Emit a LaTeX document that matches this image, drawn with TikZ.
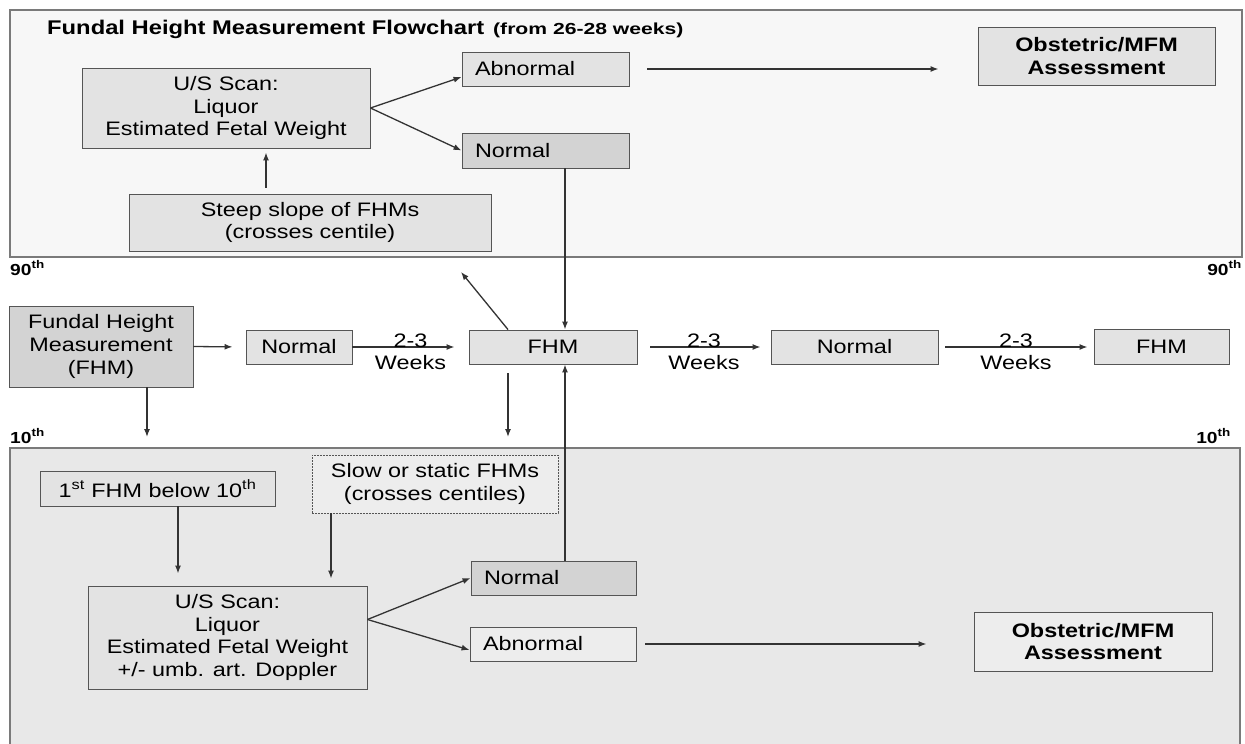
\documentclass[tikz,border=0pt]{standalone}
\usepackage{fontspec}
\setmainfont{Liberation Sans}[FakeStretch=1.2]
\usetikzlibrary{arrows.meta,calc}
\definecolor{topbg}{HTML}{F7F7F7}
\definecolor{botbg}{HTML}{E8E8E8}
\definecolor{frameclr}{HTML}{7A7A7A}
\definecolor{boxline}{HTML}{555555}
\definecolor{boxfill}{HTML}{E3E3E3}
\definecolor{darkfill}{HTML}{D3D3D3}
\definecolor{lightfill}{HTML}{EDEDED}
\definecolor{lineclr}{HTML}{333333}
\begin{document}
\begin{tikzpicture}[x=1pt,y=-1pt,
  font=\fontsize{19.5}{22.8}\selectfont,
  box/.style={draw=boxline, line width=0.9pt, fill=boxfill, inner sep=0pt, align=center},
  leftbox/.style={box, minimum height=34pt, inner xsep=13pt, align=left},
  arr/.style={draw=lineclr, line width=1.3pt, -{Latex[length=8pt,width=6pt]}},
  pct/.style={font=\fontsize{16}{18}\selectfont\bfseries, inner sep=0pt}]
\useasboundingbox (0,0) rectangle (1245,744);
\clip (0,0) rectangle (1245,744);
\fill[white] (0,0) rectangle (1245,744);
% background bands
\fill[topbg] (10,10) rectangle (1242,257);
\draw[frameclr, line width=1.2pt] (10,10) rectangle (1242,257);
\fill[botbg] (10,448) rectangle (1240,760);
\draw[frameclr, line width=1.2pt] (10,760) -- (10,448) -- (1240,448) -- (1240,760);

% title
\node[anchor=west, inner sep=0pt, font=\fontsize{19.8}{22}\selectfont\bfseries] (title) at (47,29) {Fundal Height Measurement Flowchart};
\node[anchor=west, inner sep=0pt, font=\fontsize{16}{18}\selectfont\bfseries] (sub) at (493,30) {\scalebox{1.1}[1]{(from 26-28 weeks)}};

% percentile labels
\node[pct, anchor=west] (p90l) at (10,268) {90\textsuperscript{th}};
\node[pct, anchor=east] (p90r) at (1242,268) {90\textsuperscript{th}};
\node[pct, anchor=west] (p10l) at (10,436) {10\textsuperscript{th}};
\node[pct, anchor=east] (p10r) at (1231,436) {10\textsuperscript{th}};

% top band nodes
\node[box, minimum width=288pt, minimum height=80pt] (usTop) at (226,108) {U/S Scan:\\Liquor\\Estimated Fetal Weight};
\node[leftbox, text width=141pt, fill=boxfill] (abnTop) at (545.5,69) {Abnormal};
\node[leftbox, text width=141pt, fill=darkfill, minimum height=35pt] (normTop) at (545.5,150.5) {Normal};
\node[box, minimum width=237pt, minimum height=58pt, font=\fontsize{19.5}{22.8}\selectfont\bfseries] (obsTop) at (1096.5,56) {Obstetric/MFM\\Assessment};
\node[box, minimum width=362pt, minimum height=57pt] (steep) at (310,222.5) {Steep slope of FHMs\\(crosses centile)};

% middle row
\node[box, fill=darkfill, minimum width=184pt, minimum height=81pt] (fhm0) at (101,346.5) {Fundal Height\\Measurement\\(FHM)};
\node[box, fill=boxfill, minimum width=106pt, minimum height=34pt] (norm1) at (299,347) {Normal};
\node[box, fill=boxfill, minimum width=168pt, minimum height=34pt] (fhm1) at (553,347) {FHM};
\node[box, fill=boxfill, minimum width=167pt, minimum height=34pt] (norm2) at (854.5,347) {Normal};
\node[box, fill=boxfill, minimum width=135pt, minimum height=35pt] (fhm2) at (1161.5,347) {FHM};

% bottom band nodes
\node[box, minimum width=235pt, minimum height=35pt] (first) at (157.5,488.5) {1\textsuperscript{st} FHM below 10\textsuperscript{th}};
\node[box, fill=lightfill, dash pattern=on 2pt off 1pt, minimum width=246pt, minimum height=58pt] (slow) at (435,484) {Slow or static FHMs\\(crosses centiles)};
\node[box, minimum width=279pt, minimum height=103pt] (usBot) at (227.5,637.5) {U/S Scan:\\Liquor\\Estimated Fetal Weight\\+/- umb. art. Doppler};
\node[leftbox, text width=139pt, inner xsep=13pt, fill=darkfill] (normBot) at (553.5,578) {Normal};
\node[leftbox, text width=140pt, inner xsep=13pt, fill=lightfill] (abnBot) at (553,644) {Abnormal};
\node[box, fill=lightfill, minimum width=238pt, minimum height=59pt, font=\fontsize{19.5}{22.8}\selectfont\bfseries] (obsBot) at (1093,641.5) {Obstetric/MFM\\Assessment};

% helper x positions
\coordinate (c1) at (266,0);
\coordinate (c2) at (565,0);
\coordinate (c3) at (508,0);
\coordinate (c4) at (147,0);
\coordinate (c5) at (178,0);
\coordinate (c6) at (331,0);
\coordinate (diagEnd) at (461,272);
\coordinate (downEnd) at (508,437);
\coordinate (down0) at (147,437);

% top connectors
\draw[arr] (usTop.east) -- ([yshift=-8pt]abnTop.west);
\draw[arr] (usTop.east) -- (normTop.west);
\draw[arr, shorten <=18pt, shorten >=39pt] (abnTop.east) -- (abnTop.east -| obsTop.west);
\draw[arr, shorten <=6pt, shorten >=4pt] (steep.north -| c1) -- (usTop.south -| c1);
\draw[arr] (normTop.south -| c2) -- (fhm1.north -| c2);

% middle connectors
\draw[arr] (fhm1.north -| c3) -- (diagEnd);
\draw[arr, shorten <=9pt] (fhm1.south -| c3) -- (downEnd);
\draw[arr] (fhm0.south -| c4) -- (down0);
\draw[arr, shorten >=13pt] (fhm0.east) -- (norm1.west);
\draw[arr, shorten >=14pt] (norm1.east) -- node[yshift=6pt] {2-3} node[yshift=-16pt] {Weeks} (fhm1.west);
\draw[arr, shorten <=13pt, shorten >=10pt] (fhm1.east) -- node[yshift=6pt] {2-3} node[yshift=-16pt] {Weeks} (norm2.west);
\draw[arr, shorten <=7pt, shorten >=6pt] (norm2.east) -- node[yshift=6pt] {2-3} node[yshift=-16pt] {Weeks} (fhm2.west);

% bottom connectors
\draw[arr] (normBot.north -| c2) -- (fhm1.south -| c2);
\draw[arr, shorten >=12pt] (first.south -| c5) -- (usBot.north -| c5);
\draw[arr, shorten >=7pt] (slow.south -| c6) -- (usBot.north -| c6);
\draw[arr] ([yshift=18pt]usBot.east) -- (normBot.west);
\draw[arr] ([yshift=18pt]usBot.east) -- ([yshift=-6pt]abnBot.west);
\draw[arr, shorten <=9pt, shorten >=47pt] (abnBot.east) -- (abnBot.east -| obsBot.west);
\end{tikzpicture}
\end{document}
